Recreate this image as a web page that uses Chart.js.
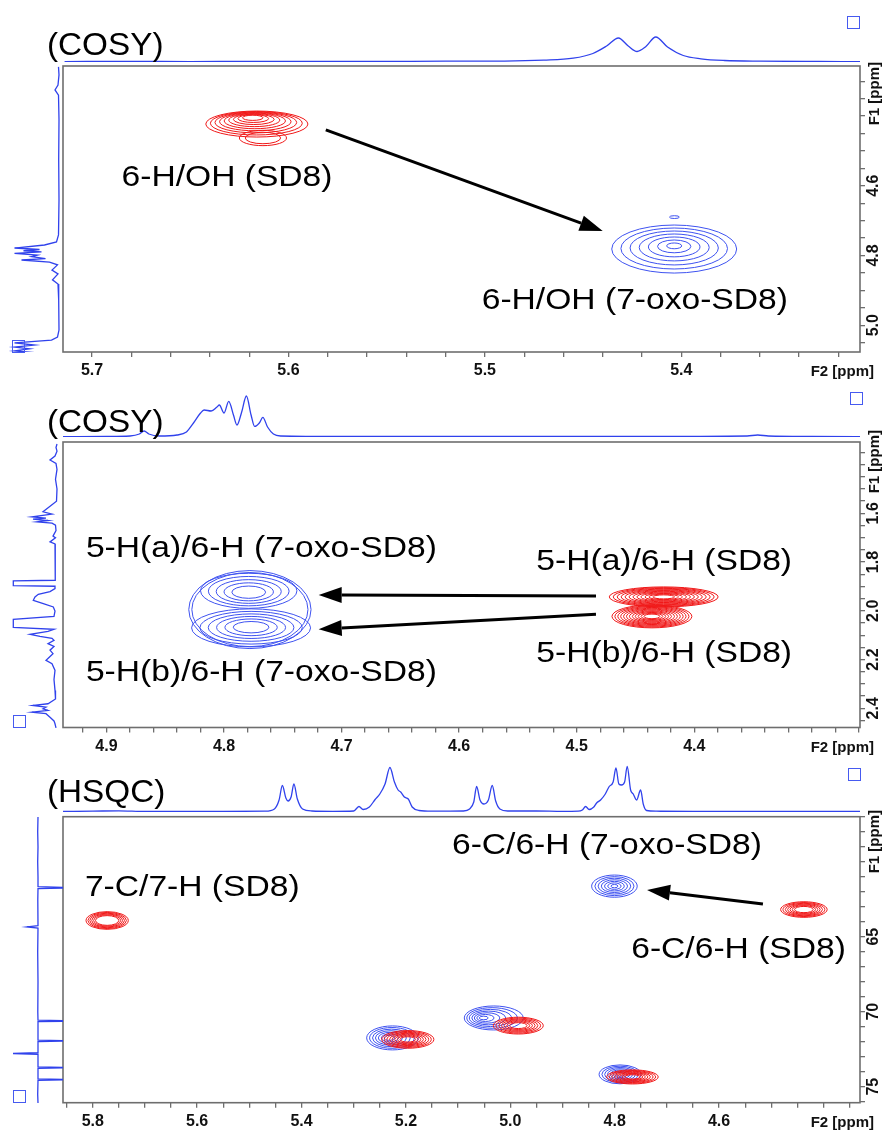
<!DOCTYPE html>
<html>
<head>
<meta charset="utf-8">
<script src="https://cdn.jsdelivr.net/npm/chart.js"></script>
<style>
  body { margin: 0; background: #fff; overflow: hidden; }
  #page { position: relative; width: 889px; height: 1131px; background: #fff; }
  #page canvas { position: absolute; }
  .tag { position: absolute; font: 32px "Liberation Sans", Arial, sans-serif; line-height: 32px;
         color: #000; white-space: nowrap; transform: scaleX(1.04); transform-origin: left center; }
  .sq { position: absolute; width: 11px; height: 11px; border: 1.3px solid rgb(70,90,240); }
</style>
</head>
<body>
<div id="page"></div>
<script>
// ---------- panel 1 : COSY, 6-H/OH region ----------
// 1D projection on top (F2 ppm / intensity)
const cosy1TopPpm = [5.714, 5.68, 5.65, 5.62, 5.58, 5.55, 5.52, 5.49, 5.47, 5.455, 5.445, 5.438, 5.432, 5.427, 5.4225, 5.418, 5.413, 5.407, 5.399, 5.39, 5.378, 5.36, 5.33, 5.309];
const cosy1TopInt = [0.4, 0.6, 0.4, 0.7, 0.5, 0.6, 0.8, 0.9, 1.8, 3.8, 8.5, 16, 24, 16, 10.5, 15.5, 25, 15, 6.5, 3.2, 1.5, 0.8, 0.5, 0.4];
// 1D projection on the left (F1 ppm / intensity)
const cosy1SidePpm = [4.259, 4.282, 4.311, 4.325, 4.34, 4.41, 4.526, 4.641, 4.741, 4.761, 4.770, 4.7787, 4.783, 4.7865, 4.790, 4.794, 4.799, 4.8035, 4.809, 4.813, 4.819, 4.827, 4.842, 4.853, 4.870, 4.882, 4.928, 5.014, 5.034, 5.043, 5.051, 5.057, 5.063, 5.068, 5.074, 5.080, 5.094];
const cosy1SideInt = [1, 0.5, 1.5, 4.5, 1, 0.5, 0.8, 0.5, 1, 3, 15, 45, 20, 36, 18, 45, 22, 28, 14, 38, 10, 2, 7.5, 1.5, 7, 1.5, 0.8, 0.5, 2, 8, 45, 25, 45, 30, 45, 20, 3];
// cross peaks: [F2, F1, half width F2, half width F1, levels, inner fraction, skew F2, skew F1, sample]
const cosy1Peaks = [
  [5.6161, 4.423, 0.026, 0.0373, 9, 0.2, 0.1, -0.6, 'SD8'],
  [5.613, 4.463, 0.012, 0.022, 2, 0.75, 0, 0, 'SD8'],
  [5.4036, 4.7816, 0.0318, 0.0689, 7, 0.12, 0, -0.15, '7-oxo-SD8'],
  [5.4035, 4.69, 0.0025, 0.004, 1, 1, 0, 0, '7-oxo-SD8']
];
// arrows: [from F2, from F1, to F2, to F1]
const cosy1Arrows = [[5.581, 4.440, 5.440, 4.730]];
// labels: [text, F2, F1, anchor]
const cosy1Labels = [
  ['6-H/OH (SD8)', 5.685, 4.578, 'left'],
  ['6-H/OH (7-oxo-SD8)', 5.5016, 4.931, 'left']
];

// ---------- panel 2 : COSY, 5-H/6-H region ----------
const cosy2TopPpm = [4.937, 4.90, 4.88, 4.872, 4.868, 4.864, 4.855, 4.84, 4.832, 4.826, 4.82, 4.817, 4.811, 4.806, 4.804, 4.800, 4.796, 4.792, 4.789, 4.785, 4.781, 4.777, 4.774, 4.770, 4.767, 4.763, 4.758, 4.752, 4.70, 4.60, 4.50, 4.40, 4.355, 4.346, 4.337, 4.30, 4.259];
const cosy2TopInt = [0.3, 0.5, 1, 3, 6, 3, 1, 2, 5, 14, 24, 27, 26, 30, 32, 24, 35.6, 22, 12, 25, 41, 22, 10.6, 14, 19.6, 10, 3, 1, 0.5, 0.6, 0.5, 0.7, 1, 2, 1, 0.5, 0.4];
const cosy2SidePpm = [1.3157, 1.33, 1.345, 1.365, 1.3813, 1.395, 1.42, 1.46, 1.50, 1.55, 1.5934, 1.603, 1.614, 1.619, 1.6234, 1.629, 1.6345, 1.64, 1.648, 1.67, 1.6931, 1.70, 1.7165, 1.725, 1.76, 1.80, 1.84, 1.8737, 1.8765, 1.8954, 1.8983, 1.9077, 1.92, 1.9311, 1.9422, 1.9557, 1.9693, 1.9832, 2.00, 2.0214, 2.0337, 2.0665, 2.0747, 2.0829, 2.0952, 2.1034, 2.1116, 2.12, 2.1334, 2.145, 2.16, 2.1744, 2.19, 2.2019, 2.2154, 2.2429, 2.28, 2.3249, 2.36, 2.3795, 2.3865, 2.393, 2.40, 2.407, 2.414, 2.42, 2.4345, 2.45, 2.4616, 2.478];
const cosy2SideInt = [1, 2, 1, 3, 8, 2, 1, 2.5, 1, 1.5, 15, 6, 26, 12, 25, 10, 21, 6, 2.5, 2, 5, 2.5, 8, 3, 2.5, 3, 2.5, 3, 44.7, 44.7, 3, 3, 8, 19.7, 23, 24.7, 14.7, 4.7, 3, 4, 44.7, 44.7, 4, 10, 28, 18, 6, 4, 10, 4, 8, 5, 9, 12, 6, 3, 4, 3, 2.5, 10, 25, 12, 15, 10, 26, 12, 8, 4, 3, 2];
const cosy2Peaks = [
  [4.778, 1.995, 0.052, 0.16, 2, 0.95, 0, 0, '7-oxo-SD8'],
  [4.779, 1.918, 0.041, 0.072, 5, 0.35, 0, 0.12, '7-oxo-SD8'],
  [4.777, 2.07, 0.0506, 0.078, 6, 0.3, 0, -0.05, '7-oxo-SD8'],
  [4.426, 1.943, 0.0463, 0.041, 12, 0.2, 0, 0, 'SD8'],
  [4.436, 2.023, 0.034, 0.047, 12, 0.2, 0, 0, 'SD8']
];
const cosy2Arrows = [
  [4.4836, 1.9393, 4.7195, 1.935],
  [4.4836, 2.0144, 4.7195, 2.076]
];
const cosy2Labels = [
  ['5-H(a)/6-H (7-oxo-SD8)', 4.9175, 1.7444, 'left'],
  ['5-H(b)/6-H (7-oxo-SD8)', 4.9175, 2.255, 'left'],
  ['5-H(a)/6-H (SD8)', 4.3168, 1.80, 'right'],
  ['5-H(b)/6-H (SD8)', 4.3168, 2.177, 'right']
];

// ---------- panel 3 : HSQC ----------
const hsqcTopPpm = [5.857, 5.80, 5.75, 5.70, 5.62, 5.55, 5.47, 5.452, 5.443, 5.4367, 5.430, 5.4257, 5.420, 5.4146, 5.408, 5.398, 5.38, 5.34, 5.30, 5.29, 5.282, 5.27, 5.259, 5.25, 5.24, 5.2306, 5.222, 5.215, 5.21, 5.203, 5.1955, 5.188, 5.175, 5.15, 5.09, 5.078, 5.07, 5.0645, 5.058, 5.0505, 5.042, 5.0346, 5.028, 5.02, 5.005, 4.95, 4.90, 4.87, 4.862, 4.8557, 4.849, 4.84, 4.8346, 4.827, 4.818, 4.8105, 4.803, 4.7976, 4.792, 4.787, 4.781, 4.776, 4.7695, 4.7645, 4.758, 4.7503, 4.7453, 4.739, 4.72, 4.65, 4.55, 4.45, 4.33];
const hsqcTopInt = [0.5, 0.8, 1.2, 0.5, 0.5, 0.5, 0.8, 3, 12, 26.5, 14, 11, 15, 28, 13, 3, 1, 0.7, 1, 5.5, 2.5, 5, 12.5, 18, 28, 44.5, 30, 22, 20, 15, 13, 5, 1.5, 0.8, 1, 3, 10, 25.5, 12, 8, 12, 26.5, 11, 3, 1, 1, 0.6, 0.8, 2, 5.5, 2.5, 5, 9, 12, 18, 25.5, 30, 44, 28, 27, 30, 45.5, 22, 18, 12, 22, 8, 1.5, 0.8, 0.6, 0.7, 0.5, 0.6];
const hsqcSidePpm = [57.0, 58.0, 59.0, 60.0, 61.0, 61.65, 61.71, 61.77, 62.5, 64.25, 64.33, 64.41, 66.0, 68.0, 70.0, 70.55, 70.6, 70.65, 71.88, 71.93, 71.98, 72.72, 72.77, 72.82, 73.66, 73.71, 73.76, 74.46, 74.51, 74.56, 75.5, 76.07];
const hsqcSideInt = [0, 0.3, 0, 0.3, 0, 0, -40, 0, 0.2, 0, 11, 0, 0.3, 0, 0.2, 0, -40, 0, 0, -40, 0, 0, 25, 0, 0, -40, 0, 0, -40, 0, 0.3, 0];
const hsqcPeaks = [
  [4.8005, 61.63, 0.0437, 0.74, 7, 0.15, 0, 0, '7-oxo-SD8'],
  [5.2258, 71.75, 0.0494, 0.80, 7, 0.2, 0.15, 0, '7-oxo-SD8'],
  [5.0317, 70.42, 0.0565, 0.80, 7, 0.15, 0.4, 0, '7-oxo-SD8'],
  [4.7897, 74.18, 0.0402, 0.63, 7, 0.2, 0, 0, '7-oxo-SD8'],
  [5.7724, 63.92, 0.0405, 0.59, 6, 0.55, 0, 0, 'SD8'],
  [4.4375, 63.19, 0.0446, 0.52, 7, 0.4, 0, 0, 'SD8'],
  [5.1964, 71.85, 0.050, 0.59, 8, 0.3, 0, 0, 'SD8'],
  [4.9847, 70.93, 0.0479, 0.56, 7, 0.35, 0, 0, 'SD8'],
  [4.766, 74.35, 0.0494, 0.47, 8, 0.3, 0, 0, 'SD8']
];
const hsqcArrows = [[4.516, 62.82, 4.738, 61.88]];
const hsqcLabels = [
  ['7-C/7-H (SD8)', 5.815, 61.75, 'left'],
  ['6-C/6-H (7-oxo-SD8)', 4.518, 58.95, 'right'],
  ['6-C/6-H (SD8)', 4.357, 65.89, 'right']
];

// ---------- look ----------
const FONT = '"Liberation Sans", Arial, Helvetica, sans-serif';
const TRACE = 'rgb(48,66,236)';
const SAMPLE_COLOR = { 'SD8': 'rgb(240,24,24)', '7-oxo-SD8': 'rgb(62,82,240)' };
const AXIS = '#6e6e6e';
const TOP_H = 55;

const page = document.getElementById('page');

function addCanvas(left, top, w, h) {
  const c = document.createElement('canvas');
  c.width = Math.round(w); c.height = Math.round(h);
  c.style.left = left + 'px'; c.style.top = top + 'px';
  c.style.width = Math.round(w) + 'px'; c.style.height = Math.round(h) + 'px';
  page.appendChild(c);
  return c;
}

function isMultiple(v, step) {
  const r = v / step;
  return Math.abs(r - Math.round(r)) < 1e-6;
}
function isSkipped(v, list) {
  return list.some(s => Math.abs(s - v) < 1e-6);
}

function drawText(ctx, text, px, py, align, size, sx) {
  ctx.save();
  ctx.translate(px, py);
  ctx.scale(sx, 1);
  ctx.font = size + 'px ' + FONT;
  ctx.fillStyle = '#000';
  ctx.textAlign = align;
  ctx.textBaseline = 'middle';
  ctx.fillText(text, 0, 0);
  ctx.restore();
}

function drawArrow(ctx, x1, y1, x2, y2) {
  const a = Math.atan2(y2 - y1, x2 - x1), L = 23, W = 8;
  const bx = x2 - L * Math.cos(a), by = y2 - L * Math.sin(a);
  ctx.strokeStyle = '#000'; ctx.fillStyle = '#000';
  ctx.lineWidth = 3;
  ctx.beginPath(); ctx.moveTo(x1, y1); ctx.lineTo(bx, by); ctx.stroke();
  ctx.beginPath();
  ctx.moveTo(x2, y2);
  ctx.lineTo(bx - W * Math.sin(a), by + W * Math.cos(a));
  ctx.lineTo(bx + W * Math.sin(a), by - W * Math.cos(a));
  ctx.closePath(); ctx.fill();
}

// contours, arrows, labels, box and rotated F1 labels of one 2D panel
function panelPlugin(p) {
  return {
    id: 'nmr2d',
    afterDatasetsDraw(chart) {
      const { ctx, chartArea: ca, scales: { x, y } } = chart;
      ctx.save();
      ctx.beginPath(); ctx.rect(ca.left, ca.top, ca.width, ca.height); ctx.clip();
      p.peaks.forEach(pk => {
        const [cx0, cy0, wx, wy, levels, inner, skx, sky, sample] = pk;
        ctx.strokeStyle = SAMPLE_COLOR[sample];
        ctx.lineWidth = 1;
        for (let k = 0; k < levels; k++) {
          const f = levels === 1 ? 1 : 1 - k * (1 - inner) / (levels - 1);
          const cx = cx0 + skx * wx * (1 - f);
          const cy = cy0 + sky * wy * (1 - f);
          const px = x.getPixelForValue(cx), py = y.getPixelForValue(cy);
          const rx = Math.abs(x.getPixelForValue(cx + wx * f) - px);
          const ry = Math.abs(y.getPixelForValue(cy + wy * f) - py);
          ctx.beginPath(); ctx.ellipse(px, py, rx, ry, 0, 0, Math.PI * 2); ctx.stroke();
        }
      });
      ctx.restore();

      ctx.save();
      p.arrows.forEach(a => drawArrow(ctx,
        x.getPixelForValue(a[0]), y.getPixelForValue(a[1]),
        x.getPixelForValue(a[2]), y.getPixelForValue(a[3])));
      p.labels.forEach(l => drawText(ctx, l[0], x.getPixelForValue(l[1]), y.getPixelForValue(l[2]), l[3], 30, 1.12));
      ctx.restore();
    },
    afterDraw(chart) {
      const { ctx, chartArea: ca, scales: { y } } = chart;
      ctx.save();
      ctx.strokeStyle = AXIS; ctx.lineWidth = 1.6;
      ctx.strokeRect(ca.left, ca.top, ca.width, ca.height);
      ctx.fillStyle = '#111';
      ctx.font = 'bold 16px ' + FONT;
      ctx.textBaseline = 'middle';
      y.ticks.forEach(t => {
        if (!isMultiple(t.value, p.yLabelStep) || isSkipped(t.value, p.ySkip)) return;
        ctx.save();
        ctx.translate(ca.right + 14, y.getPixelForValue(t.value));
        ctx.rotate(-Math.PI / 2);
        ctx.textAlign = 'center';
        ctx.fillText(t.value.toFixed(p.yDigits), 0, 0);
        ctx.restore();
      });
      ctx.font = 'bold 15px ' + FONT;
      ctx.save();
      ctx.translate(ca.right + 15, p.f1Top - chart.canvas.offsetTop);
      ctx.rotate(-Math.PI / 2);
      ctx.textAlign = 'right';
      ctx.fillText('F1 [ppm]', 0, 0);
      ctx.restore();
      ctx.textAlign = 'right';
      ctx.fillText('F2 [ppm]', ca.right + 14, ca.bottom + 20);
      ctx.restore();
    }
  };
}

function mainChart(p) {
  const cv = addCanvas(0, p.canvasTop, 889, p.canvasH);
  return new Chart(cv, {
    type: 'scatter',
    data: { datasets: [] },
    options: {
      responsive: false, animation: false, events: [],
      layout: { padding: { left: 63, top: p.boxTop - p.canvasTop, right: 0, bottom: 0 }, autoPadding: false },
      plugins: { legend: { display: false }, tooltip: { enabled: false } },
      scales: {
        x: {
          type: 'linear', reverse: true, min: p.xMin, max: p.xMax, position: 'bottom',
          border: { display: false },
          grid: { drawOnChartArea: false, drawTicks: true, tickLength: 5, tickColor: AXIS, lineWidth: 1.3 },
          ticks: {
            stepSize: p.xStep, includeBounds: false, autoSkip: false, maxRotation: 0, minRotation: 0,
            padding: 4, color: '#111', font: { family: FONT, size: 16, weight: 'bold' },
            callback: v => (isMultiple(v, p.xLabelStep) && !isSkipped(v, p.xSkip)) ? v.toFixed(1) : ''
          },
          afterFit: s => { s.height = p.canvasTop + p.canvasH - p.boxBottom; }
        },
        y: {
          type: 'linear', reverse: true, min: p.yMin, max: p.yMax, position: 'right',
          border: { display: false },
          grid: { drawOnChartArea: false, drawTicks: true, tickLength: 5, tickColor: AXIS, lineWidth: 1.3 },
          ticks: { stepSize: p.yStep, includeBounds: false, autoSkip: false, display: false },
          afterFit: s => { s.width = 29; }
        }
      }
    },
    plugins: [panelPlugin(p)]
  });
}

function topTrace(p) {
  const cv = addCanvas(0, p.topBase - TOP_H, 889, TOP_H);
  return new Chart(cv, {
    type: 'line',
    data: { datasets: [{
      data: p.topPpm.map((v, i) => ({ x: v, y: p.topInt[i] })),
      borderColor: TRACE, borderWidth: 1.3, pointRadius: 0, fill: false,
      tension: 0.35, cubicInterpolationMode: 'monotone', clip: false
    }] },
    options: {
      responsive: false, animation: false, events: [],
      layout: { padding: { left: 63, right: 29, top: 0, bottom: 0 }, autoPadding: false },
      plugins: { legend: { display: false }, tooltip: { enabled: false } },
      scales: {
        x: { type: 'linear', reverse: true, min: p.xMin, max: p.xMax, display: false },
        y: { type: 'linear', min: 0, max: TOP_H, display: false }
      }
    }
  });
}

function sideTrace(p) {
  const cv = addCanvas(0, p.boxTop, 63, p.boxBottom - p.boxTop);
  return new Chart(cv, {
    type: 'line',
    data: { datasets: [{
      data: p.sidePpm.map((v, i) => ({ x: p.sideInt[i], y: v })),
      borderColor: TRACE, borderWidth: 1.3, pointRadius: 0, fill: false, tension: 0
    }] },
    options: {
      indexAxis: 'y',
      responsive: false, animation: false, events: [],
      layout: { padding: 0, autoPadding: false },
      plugins: { legend: { display: false }, tooltip: { enabled: false } },
      scales: {
        x: { type: 'linear', reverse: true, min: p.sideMin, max: p.sideMax, display: false },
        y: { type: 'linear', reverse: true, min: p.yMin, max: p.yMax, display: false }
      }
    }
  });
}

function addDecor(p) {
  const t = document.createElement('div');
  t.className = 'tag'; t.textContent = p.tag;
  t.style.left = '47px'; t.style.top = (p.tagY - 16) + 'px';
  page.appendChild(t);
  p.squares.forEach(s => {
    const d = document.createElement('div');
    d.className = 'sq'; d.style.left = s[0] + 'px'; d.style.top = s[1] + 'px';
    page.appendChild(d);
  });
}

const panels = [
  { tag: '(COSY)', canvasTop: 0, canvasH: 390, boxTop: 66, boxBottom: 352, topBase: 62, f1Top: 62, tagY: 44,
    xMin: 5.309, xMax: 5.7148, xStep: 0.02, xLabelStep: 0.1, xSkip: [],
    yMin: 4.2565, yMax: 5.077, yStep: 0.05, yLabelStep: 0.2, ySkip: [4.4], yDigits: 1,
    sideMin: -3.5, sideMax: 59.5, squares: [[847, 16], [12, 340]],
    topPpm: cosy1TopPpm, topInt: cosy1TopInt, sidePpm: cosy1SidePpm, sideInt: cosy1SideInt,
    peaks: cosy1Peaks, arrows: cosy1Arrows, labels: cosy1Labels },
  { tag: '(COSY)', canvasTop: 380, canvasH: 380, boxTop: 442, boxBottom: 727.5, topBase: 437.3, f1Top: 430, tagY: 421,
    xMin: 4.259, xMax: 4.937, xStep: 0.02, xLabelStep: 0.1, xSkip: [4.3],
    yMin: 1.3075, yMax: 2.4788, yStep: 0.05, yLabelStep: 0.2, ySkip: [1.4], yDigits: 1,
    sideMin: -5, sideMax: 58, squares: [[850, 392], [13, 715]],
    topPpm: cosy2TopPpm, topInt: cosy2TopInt, sidePpm: cosy2SidePpm, sideInt: cosy2SideInt,
    peaks: cosy2Peaks, arrows: cosy2Arrows, labels: cosy2Labels },
  { tag: '(HSQC)', canvasTop: 760, canvasH: 371, boxTop: 816.7, boxBottom: 1102.7, topBase: 811.5, f1Top: 810, tagY: 791,
    xMin: 4.330, xMax: 5.857, xStep: 0.05, xLabelStep: 0.2, xSkip: [4.4],
    yMin: 57.0, yMax: 76.07, yStep: 1, yLabelStep: 5, ySkip: [60], yDigits: 0,
    sideMin: -25, sideMax: 38, squares: [[848, 768], [13, 1090]],
    topPpm: hsqcTopPpm, topInt: hsqcTopInt, sidePpm: hsqcSidePpm, sideInt: hsqcSideInt,
    peaks: hsqcPeaks, arrows: hsqcArrows, labels: hsqcLabels }
];

panels.forEach(p => {
  mainChart(p);
  topTrace(p);
  sideTrace(p);
  addDecor(p);
});
</script>
</body>
</html>
